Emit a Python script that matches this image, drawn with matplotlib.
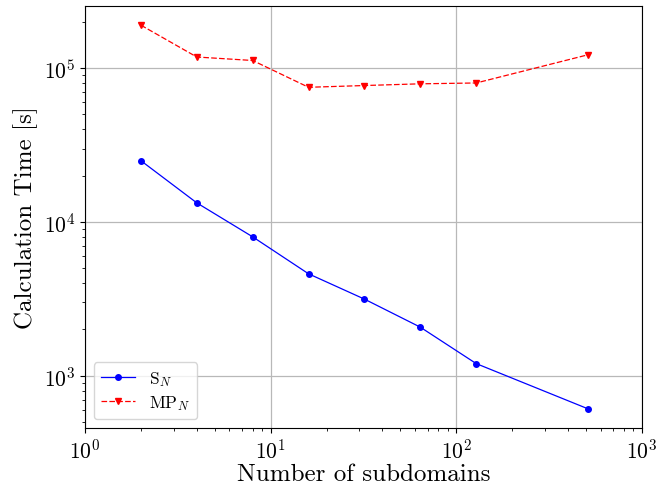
import matplotlib
matplotlib.use("Agg")
import matplotlib.pyplot as plt

plt.rcParams['font.family'] = 'serif'
plt.rcParams['font.serif'] = ['cmr10']
plt.rcParams['mathtext.fontset'] = 'cm'
plt.rcParams['axes.formatter.use_mathtext'] = True

subdomains = [2, 4, 8, 16, 32, 64, 128, 512]
sn_time = [2.5e4, 1.33e4, 8.0e3, 4.6e3, 3.15e3, 2.07e3, 1.2e3, 610]
mpn_time = [1.9e5, 1.18e5, 1.12e5, 7.5e4, 7.7e4, 7.9e4, 8.0e4, 1.22e5]

fig = plt.figure(figsize=(6.56, 4.89), dpi=100)
ax = fig.add_axes([0.1296, 0.1227, 0.849, 0.863])

ax.plot(subdomains, sn_time, color='blue', marker='o', markersize=4, linewidth=0.9, label=r'S$_N$')
ax.plot(subdomains, mpn_time, color='red', marker='v', markersize=5, linewidth=0.9,
        linestyle=(0, (4.5, 1.8)), label=r'MP$_N$')
ax.set_xscale('log')
ax.set_yscale('log')
ax.set_xlim(1, 1000)
ax.grid(True, which='major', color='#b8b8b8', linewidth=0.9)
ax.tick_params(labelsize=15.5)
ax.set_xlabel('Number of subdomains', fontsize=18, labelpad=1)
ax.set_ylabel('Calculation Time [s]', fontsize=18)
ax.legend(loc='lower left', fontsize=12.5, labelspacing=0.3)

fig.savefig('out.png', dpi=100)
